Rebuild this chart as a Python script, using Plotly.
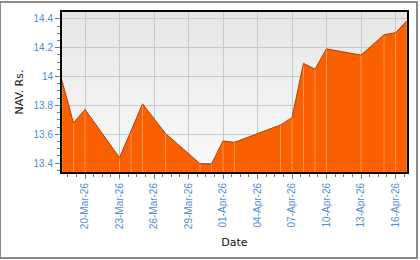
import base64, struct, zlib
import plotly.graph_objects as go

# ---- data ----
dates = ["2026-03-18", "2026-03-19", "2026-03-20", "2026-03-23", "2026-03-24",
         "2026-03-25", "2026-03-27", "2026-03-30", "2026-03-31", "2026-04-01",
         "2026-04-02", "2026-04-06", "2026-04-07", "2026-04-08", "2026-04-09",
         "2026-04-10", "2026-04-13", "2026-04-15", "2026-04-16", "2026-04-17"]
nav = [13.971, 13.678, 13.772, 13.438, 13.622,
       13.811, 13.605, 13.396, 13.394, 13.553,
       13.544, 13.664, 13.715, 14.092, 14.051,
       14.192, 14.149, 14.290, 14.304, 14.388]
y_range = [13.338, 14.448]
y_ticks = [13.4, 13.6, 13.8, 14.0, 14.2, 14.4]
y_tick_text = ["13.4", "13.6", "13.8", "14", "14.2", "14.4"]

W, H = 420, 260
ML, MR, MT, MB = 62, 13, 10, 88
PW, PH = W - ML - MR, H - MT - MB


def gradient_png(top, bottom, n=120):
    rows = []
    for i in range(n):
        t = i / (n - 1)
        c = [round(top[k] + (bottom[k] - top[k]) * t) for k in range(3)]
        rows.append(b"\x00" + bytes(c))
    raw = b"".join(rows)

    def chunk(tag, data):
        return (struct.pack(">I", len(data)) + tag + data +
                struct.pack(">I", zlib.crc32(tag + data) & 0xffffffff))
    png = (b"\x89PNG\r\n\x1a\n" +
           chunk(b"IHDR", struct.pack(">IIBBBBB", 1, n, 8, 2, 0, 0, 0)) +
           chunk(b"IDAT", zlib.compress(raw)) + chunk(b"IEND", b""))
    return "data:image/png;base64," + base64.b64encode(png).decode()


fig = go.Figure()
# area fill
fig.add_trace(go.Scatter(x=dates, y=nav, mode="lines", fill="tozeroy",
                         fillcolor="#fa6000", line=dict(width=0),
                         hoverinfo="skip", showlegend=False))
# light seams at each data point
vx, vy = [], []
for d, v in zip(dates, nav):
    vx += [d, d, None]
    vy += [y_range[0], v, None]
fig.add_trace(go.Scatter(x=vx, y=vy, mode="lines",
                         line=dict(color="rgba(255,190,140,0.55)", width=1),
                         hoverinfo="skip", showlegend=False))
# edge line
fig.add_trace(go.Scatter(x=dates, y=nav, mode="lines",
                         line=dict(color="#a8420a", width=1),
                         showlegend=False))

tick_font = dict(family="Liberation Sans, Arial, sans-serif", size=10, color="#4f8cd6")
title_font = dict(family="DejaVu Sans, Verdana, sans-serif", size=11, color="#111111")

fig.update_layout(
    width=W, height=H,
    margin=dict(l=ML, r=MR, t=MT, b=MB),
    paper_bgcolor="white",
    plot_bgcolor="rgba(0,0,0,0)",
    images=[dict(source=gradient_png((230, 230, 230), (250, 250, 250)),
                 xref="paper", yref="paper", x=0, y=1, sizex=1, sizey=1,
                 xanchor="left", yanchor="top", sizing="stretch", layer="below")],
    shapes=[dict(type="rect", xref="paper", yref="paper",
                 x0=-ML / PW, x1=(W - 3) / PW - ML / PW,
                 y0=1 - (H - 1 - MT) / PH, y1=1 + MT / PH,
                 line=dict(color="#8a8a8a", width=2), fillcolor="rgba(0,0,0,0)",
                 layer="below")],
    xaxis=dict(
        type="date", range=[dates[0], dates[-1]],
        tick0="2026-03-20", dtick=3 * 86400000, tickformat="%d-%b-%y",
        tickangle=-90, tickfont=tick_font,
        ticks="outside", ticklen=5, tickcolor="#777777", tickwidth=1,
        minor=dict(dtick=0.75 * 86400000, tick0="2026-03-20", ticks="outside",
                   ticklen=3, tickcolor="#777777", showgrid=False),
        showgrid=True, gridcolor="#c8c8c8", gridwidth=1,
        showline=True, linecolor="black", linewidth=2, mirror=True,
        zeroline=False,
        title=dict(text="Date", font=title_font, standoff=10),
    ),
    yaxis=dict(
        range=y_range, tickvals=y_ticks, ticktext=y_tick_text, tickfont=tick_font,
        ticks="outside", ticklen=5, tickcolor="#777777", tickwidth=1,
        minor=dict(dtick=0.05, tick0=13.4, ticks="outside", ticklen=3,
                   tickcolor="#777777", showgrid=False),
        showgrid=True, gridcolor="#c8c8c8", gridwidth=1,
        showline=True, linecolor="black", linewidth=2, mirror=True,
        zeroline=False,
        title=dict(text="NAV. Rs.", font=title_font, standoff=8),
    ),
)

fig.write_html("out.html")
